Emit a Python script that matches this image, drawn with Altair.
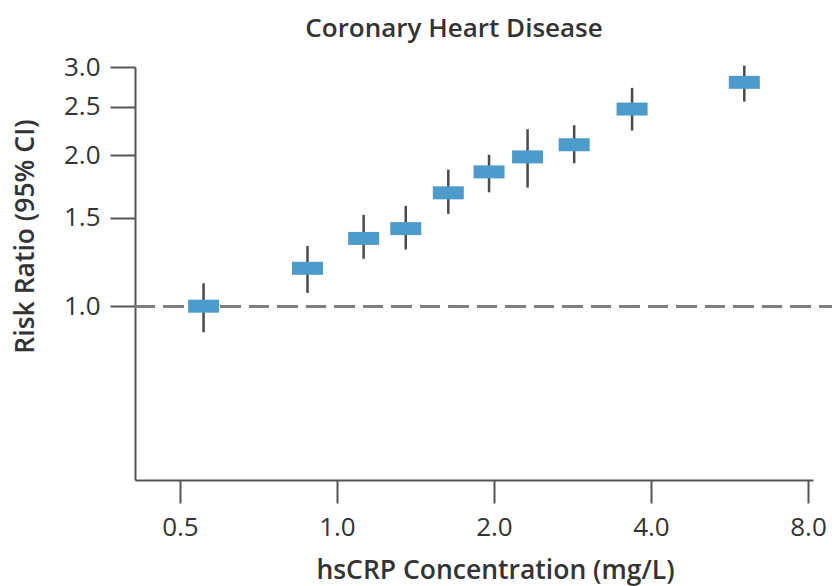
import altair as alt
import pandas as pd

# hsCRP concentration (mg/L) of each group, risk ratio and 95% CI
conc = [0.555, 0.878, 1.125, 1.355, 1.635, 1.957, 2.32, 2.85, 3.68, 6.04]
rr = [1.00, 1.19, 1.365, 1.428, 1.683, 1.853, 1.985, 2.099, 2.473, 2.796]
ci_lo = [0.887, 1.063, 1.243, 1.297, 1.528, 1.687, 1.724, 1.928, 2.240, 2.559]
ci_hi = [1.111, 1.319, 1.521, 1.585, 1.873, 2.004, 2.254, 2.296, 2.726, 3.02]

x_ticks = [0.5, 1.0, 2.0, 4.0, 8.0]
y_ticks = [1.0, 1.5, 2.0, 2.5, 3.0]

df = pd.DataFrame({"conc": conc, "rr": rr, "lo": ci_lo, "hi": ci_hi})

FONT = "Open Sans"
W, H = 678, 413

xscale = alt.Scale(type="log", domain=[0.41, 8.18], nice=False)
yscale = alt.Scale(type="log", domain=[0.45, 3.0], nice=False)

xaxis = alt.Axis(
    values=x_ticks, format=".1f", title="hsCRP Concentration (mg/L)",
    tickSize=23, labelPadding=11, labelFontSize=26, labelFont=FONT,
    titleFont=FONT, titleFontSize=26.5, titleFontWeight=600,
    titleX=360, titleY=98, titleBaseline="alphabetic", titleAlign="center",
    grid=False, domainColor="#555555", tickColor="#555555",
    domainWidth=2, tickWidth=2, labelColor="#333333", titleColor="#333333",
)
yaxis = alt.Axis(
    values=y_ticks, format=".1f", title="Risk Ratio (95% CI)",
    tickSize=25, labelPadding=10, labelFontSize=26, labelFont=FONT,
    titleFont=FONT, titleFontSize=26.5, titleFontWeight=600,
    titleX=-102, titleY=169, titleAngle=270, titleBaseline="alphabetic",
    titleAlign="center", grid=False, domainColor="#555555",
    tickColor="#555555", domainWidth=2, tickWidth=2,
    labelColor="#333333", titleColor="#333333",
)

base = alt.Chart(df)

refline = base.mark_rule(
    color="#7f7f7f", strokeWidth=2.5, strokeDash=[20, 8.5]
).encode(
    y=alt.datum(1.0, scale=yscale, axis=yaxis),
    x=alt.value(0),
    x2=alt.value(697),
)

whisk = base.mark_rule(color="#4a4a4a", strokeWidth=2.5).encode(
    x=alt.X("conc:Q", scale=xscale, axis=xaxis),
    y=alt.Y("lo:Q", scale=yscale, axis=yaxis),
    y2="hi:Q",
)

boxes = base.mark_point(
    shape="M-1,-0.42H1V0.42H-1Z", filled=True, opacity=1,
    color="#4d9bcb", size=961,
).encode(
    x=alt.X("conc:Q", scale=xscale, axis=xaxis),
    y=alt.Y("rr:Q", scale=yscale, axis=yaxis),
)

chart = alt.layer(refline, whisk, boxes).properties(
    width=W, height=H,
    background="white",
    title=alt.TitleParams(
        "Coronary Heart Disease", font=FONT, fontSize=26, fontWeight=600,
        color="#333333", anchor="middle", frame="group", dx=-20, dy=27,
        baseline="alphabetic", offset=18,
    ),
    autosize=alt.AutoSizeParams(type="none"),
    padding={"left": 135, "top": 67, "right": 19, "bottom": 106},
).configure_view(strokeWidth=0, stroke="transparent")

chart.save("out.html", embed_options={"renderer": "svg", "actions": False})
